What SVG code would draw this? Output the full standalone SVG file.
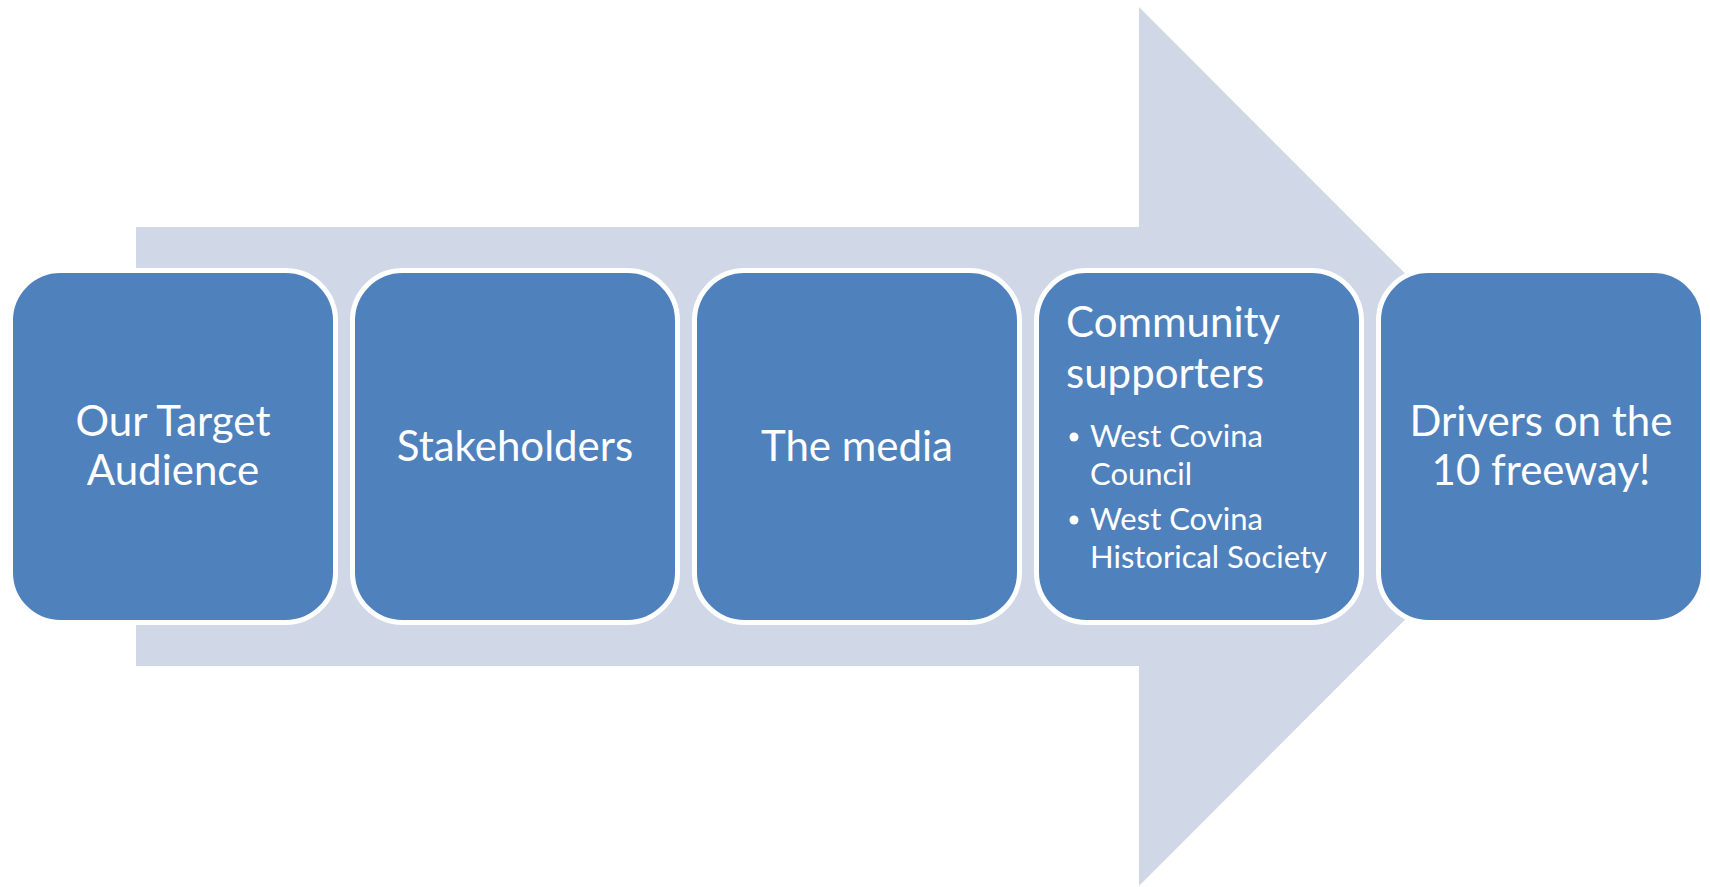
<svg xmlns="http://www.w3.org/2000/svg" width="1710" height="887" viewBox="0 0 1710 887">
  <style>
    .box { fill: #4F81BD; stroke: #FFFFFF; stroke-width: 5; }
    .main { font-family: Lato, "Open Sans", sans-serif; font-size: 42px; fill: #FFFFFF; }
    .sub { font-family: Lato, "Open Sans", sans-serif; font-size: 31px; fill: #FFFFFF; }
    .mid { text-anchor: middle; }
  </style>
  <rect width="1710" height="887" fill="#FFFFFF"/>
  <!-- background process arrow -->
  <polygon id="arrow" points="136,227 1139,227 1139,7 1578,446.5 1139,886 1139,666 136,666" fill="#D0D8E8"/>
  <g id="connectors"></g>
  <g id="node-audience">
    <rect class="box" x="10.5" y="270.5" width="325" height="352" rx="50"/>
    <text class="main mid" x="173" y="436">Our Target</text>
    <text class="main mid" x="173" y="485">Audience</text>
  </g>
  <g id="node-stakeholders">
    <rect class="box" x="352.5" y="270.5" width="325" height="352" rx="50"/>
    <text class="main mid" x="515" y="461">Stakeholders</text>
  </g>
  <g id="node-media">
    <rect class="box" x="694.5" y="270.5" width="325" height="352" rx="50"/>
    <text class="main mid" x="857" y="461">The media</text>
  </g>
  <g id="node-community">
    <rect class="box" x="1036.5" y="270.5" width="325" height="352" rx="50"/>
    <text class="main" x="1066" y="337">Community</text>
    <text class="main" x="1066" y="388">supporters</text>
    <circle cx="1074" cy="437" r="4.5" fill="#FFFFFF"/>
    <text class="sub" x="1090" y="447">West Covina</text>
    <text class="sub" x="1090" y="485">Council</text>
    <circle cx="1074" cy="520" r="4.5" fill="#FFFFFF"/>
    <text class="sub" x="1090" y="530">West Covina</text>
    <text class="sub" x="1090" y="568">Historical Society</text>
  </g>
  <g id="node-drivers">
    <rect class="box" x="1378.5" y="270.5" width="325" height="352" rx="50"/>
    <text class="main mid" x="1541" y="436">Drivers on the</text>
    <text class="main mid" x="1541" y="485">10 freeway!</text>
  </g>
</svg>
